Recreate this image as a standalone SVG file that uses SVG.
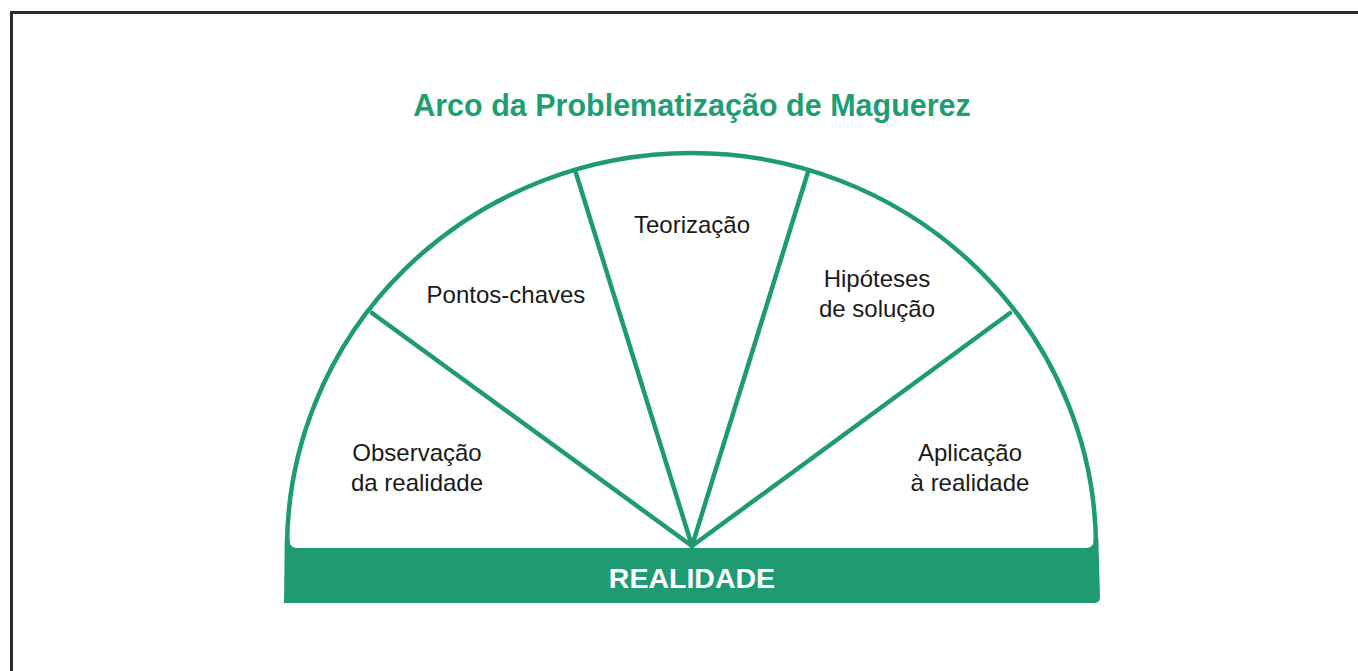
<svg xmlns="http://www.w3.org/2000/svg" width="1358" height="671" viewBox="0 0 1358 671">
<style>
.lbl{font-family:"Liberation Sans",Arial,sans-serif;font-size:24px;fill:#1a1a1a;text-anchor:middle}
.ttl{font-family:"Liberation Sans",Arial,sans-serif;font-size:30.5px;font-weight:bold;fill:#1f9e73;text-anchor:middle}
.bar{font-family:"Liberation Sans",Arial,sans-serif;font-size:28.5px;font-weight:bold;fill:#ffffff;text-anchor:middle}
.ln{stroke:#1e9b72;stroke-width:4.5;fill:none;stroke-linecap:round}
</style>
<rect x="0" y="0" width="1358" height="671" fill="#ffffff"/>
<rect x="11.5" y="12.5" width="1400" height="700" fill="none" stroke="#2b2b2b" stroke-width="3"/>
<g id="title"><text class="ttl" x="692" y="116">Arco da Problematização de Maguerez</text></g>
<g id="connectors">
<path class="ln" d="M287,548 A404.5 395 0 0 1 1096,548"/>
<line class="ln" x1="692" y1="546" x2="575" y2="170"/>
<line class="ln" x1="692" y1="546" x2="372" y2="313"/>
<line class="ln" x1="692" y1="546" x2="808" y2="172"/>
<line class="ln" x1="692" y1="546" x2="1010" y2="313"/>
</g>
<g id="realidade">
<path fill="#1e9b72" d="M284.8,538 L284,603 L1094,603 Q1100,603 1100,597 L1098.3,538 L1093.7,538 L1093.7,540 Q1093.7,548 1085.7,548 L297.5,548 Q289.5,548 289.5,540 L289.3,538 Z"/>
<text class="bar" x="692" y="588">REALIDADE</text>
</g>
<g id="observacao"><text class="lbl" x="417" y="461">Observação</text><text class="lbl" x="417" y="491">da realidade</text></g>
<g id="pontos"><text class="lbl" x="506" y="303">Pontos-chaves</text></g>
<g id="teorizacao"><text class="lbl" x="692" y="233">Teorização</text></g>
<g id="hipoteses"><text class="lbl" x="877" y="287">Hipóteses</text><text class="lbl" x="877" y="317">de solução</text></g>
<g id="aplicacao"><text class="lbl" x="970" y="461">Aplicação</text><text class="lbl" x="970" y="491">à realidade</text></g>
</svg>
